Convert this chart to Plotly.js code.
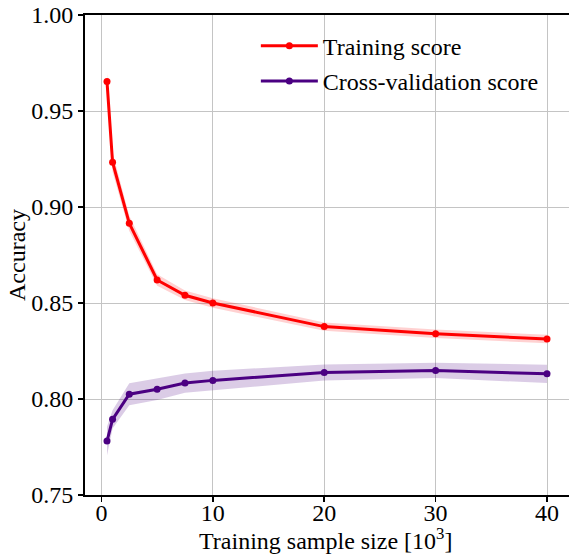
<!DOCTYPE html>
<html>
<head>
<meta charset="utf-8">
<script src="https://cdn.plot.ly/plotly-3.0.1.min.js"></script>
<style>
  html, body { margin: 0; padding: 0; background: #ffffff; }
  #chart { width: 569px; height: 554px; }
</style>
</head>
<body>
<div id="chart"></div>
<script>
// Training sample size, in thousands
const sampleSizes = [0.5, 1, 2.5, 5, 7.5, 10, 20, 30, 40];

// Training score (mean and standard deviation)
const trainMean = [0.9653, 0.9233, 0.8915, 0.8620, 0.8540, 0.8500, 0.8377, 0.8340, 0.8312];
const trainStd  = [0.0045, 0.0050, 0.0040, 0.0030, 0.0025, 0.0025, 0.0022, 0.0022, 0.0022];

// Cross-validation score (mean and standard deviation)
const cvMean = [0.7781, 0.7894, 0.8025, 0.8051, 0.8083, 0.8097, 0.8138, 0.8149, 0.8131];
const cvStd  = [0.0075, 0.0047, 0.0057, 0.0056, 0.0050, 0.0050, 0.0042, 0.0040, 0.0048];

const seriesNames = ["Training score", "Cross-validation score"];
const xTickVals = [0, 10, 20, 30, 40];
const yTickVals = [0.75, 0.80, 0.85, 0.90, 0.95, 1.00];
const xTitle = "Training sample size [10<sup>3</sup>]";
const yTitle = "Accuracy";

const serif = '"Liberation Serif", "Times New Roman", Times, serif';

function band(mean, std, fillColor) {
  const upper = mean.map((m, i) => m + std[i]);
  const lower = mean.map((m, i) => m - std[i]);
  return {
    x: sampleSizes.concat(sampleSizes.slice().reverse()),
    y: upper.concat(lower.slice().reverse()),
    type: "scatter",
    mode: "lines",
    fill: "toself",
    fillcolor: fillColor,
    line: { width: 0, color: "rgba(0,0,0,0)" },
    hoverinfo: "skip",
    showlegend: false
  };
}

const traces = [
  band(trainMean, trainStd, "rgba(255,0,0,0.18)"),
  band(cvMean, cvStd, "rgba(75,0,130,0.2)"),
  {
    x: sampleSizes, y: trainMean, name: seriesNames[0],
    type: "scatter", mode: "lines+markers",
    line: { color: "#ff0000", width: 3 },
    marker: { color: "#ff0000", size: 7 },
    legendgroup: "a"
  },
  {
    x: sampleSizes, y: cvMean, name: seriesNames[1],
    type: "scatter", mode: "lines+markers",
    line: { color: "#4b0082", width: 3 },
    marker: { color: "#4b0082", size: 7 },
    legendgroup: "b"
  }
];

const axisFont = { family: serif, size: 24, color: "#000000" };

const layout = {
  width: 569,
  height: 554,
  margin: { l: 85, r: 0, t: 15, b: 59, pad: 0 },
  paper_bgcolor: "#ffffff",
  plot_bgcolor: "#ffffff",
  font: axisFont,
  showlegend: true,
  legend: {
    x: 0.353, xanchor: "left",
    y: 0.982, yanchor: "top",
    bgcolor: "rgba(0,0,0,0)",
    borderwidth: 0,
    font: axisFont,
    itemwidth: 57,
    traceorder: "grouped",
    tracegroupgap: 1
  },
  xaxis: {
    range: [-1.475, 41.975],
    tickvals: xTickVals,
    ticktext: xTickVals.map(String),
    ticks: "outside", ticklen: 5, tickwidth: 1.5, tickcolor: "#000000",
    ticklabelstandoff: -10,
    showline: true, linecolor: "#000000", linewidth: 2, mirror: true,
    showgrid: true, gridcolor: "#c4c4c4", gridwidth: 1,
    zeroline: false,
    tickfont: axisFont,
    automargin: false
  },
  yaxis: {
    range: [0.75, 1.00],
    tickvals: yTickVals,
    ticktext: yTickVals.map(v => v.toFixed(2)),
    ticks: "outside", ticklen: 5, tickwidth: 1.5, tickcolor: "#000000",
    showline: true, linecolor: "#000000", linewidth: 2, mirror: false,
    showgrid: true, gridcolor: "#c4c4c4", gridwidth: 1,
    zeroline: false,
    tickfont: axisFont,
    automargin: false
  },
  annotations: [
    {
      text: xTitle, xref: "paper", yref: "paper",
      x: 0.497, y: 0, xanchor: "center", yanchor: "top",
      yshift: -27, showarrow: false, font: axisFont
    },
    {
      text: yTitle, xref: "paper", yref: "paper",
      x: 0, y: 0.5, xanchor: "center", yanchor: "middle",
      xshift: -68, textangle: -90, showarrow: false, font: axisFont
    }
  ]
};

Plotly.newPlot("chart", traces, layout, { displayModeBar: false, staticPlot: true });
</script>
</body>
</html>
